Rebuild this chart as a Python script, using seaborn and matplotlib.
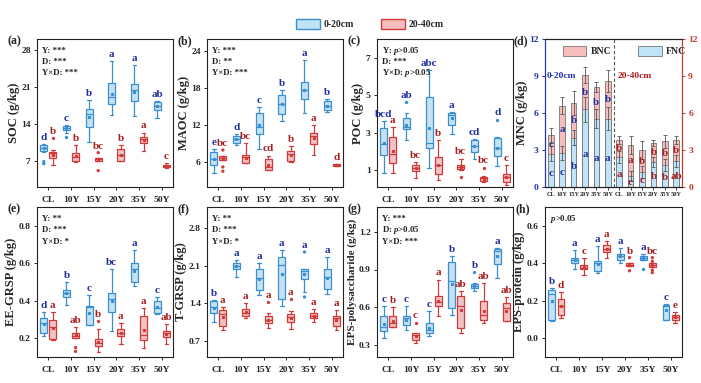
import numpy as np
import pandas as pd
import matplotlib
matplotlib.use("Agg")
import matplotlib.pyplot as plt
from matplotlib.patches import Patch
import seaborn as sns

ages = ["CL", "10Y", "15Y", "20Y", "35Y", "50Y"]
depths = ["0-20cm", "20-40cm"]

# box stats per age: (lower whisker, q1, median, q3, upper whisker)
soc_top = [(8.6, 8.8, 9.3, 9.9, 10.1), (12.3, 12.7, 13.1, 13.5, 13.8), (10.6, 13.4, 15.9, 16.8, 18.5),
           (15.6, 17.7, 19.0, 21.7, 25.8), (15.4, 18.2, 20.3, 21.4, 25.0), (15.1, 16.65, 17.3, 18.1, 18.3)]
soc_sub = [(6.2, 7.55, 8.4, 8.7, 9.0), (6.8, 7.0, 7.75, 8.4, 9.95), (7.0, 7.0, 7.3, 7.55, 7.55),
           (7.0, 7.0, 8.1, 9.1, 9.95), (8.9, 10.4, 11.0, 11.5, 12.3), (5.55, 5.75, 6.0, 6.2, 6.5)]
soc_top_out = [[6.8, 6.4], [11.4], [], [], [], []]
soc_sub_out = [[11.2], [], [8.5, 5.1], [], [], []]
soc_top_let = ["d", "c", "b", "a", "a", "ab"]
soc_sub_let = ["b", "b", "bc", "b", "a", "c"]

maoc_top = [(4.3, 5.6, 6.5, 7.6, 8.2), (8.8, 9.2, 9.8, 10.2, 10.6), (8.1, 10.6, 11.8, 14.0, 15.0),
            (12.75, 13.9, 15.4, 16.9, 17.7), (14.0, 16.3, 17.7, 19.0, 22.6), (14.2, 14.5, 15.1, 16.0, 16.3)]
maoc_sub = [(6.4, 6.4, 6.75, 7.0, 7.0), (5.9, 5.9, 6.85, 7.2, 9.1), (4.7, 4.7, 5.25, 6.5, 7.1),
            (6.0, 6.2, 7.4, 7.9, 8.6), (7.2, 9.0, 10.2, 10.7, 12.1), (5.35, 5.35, 5.55, 5.7, 5.7)]
maoc_top_out = [[], [], [], [], [], []]
maoc_sub_out = [[8.0, 5.25, 4.55], [], [], [], [], []]
maoc_top_let = ["e", "d", "c", "b", "a", "b"]
maoc_sub_let = ["bc", "bc", "cd", "b", "a", "d"]

poc_top = [(0.86, 1.8, 2.42, 3.23, 3.64), (2.6, 3.17, 3.3, 3.76, 4.03), (1.09, 2.16, 2.46, 4.92, 6.34),
           (2.92, 3.4, 3.94, 4.06, 4.12), (1.62, 1.98, 2.28, 2.6, 2.64), (1.21, 1.75, 2.16, 2.69, 2.75)]
poc_sub = [(0.86, 1.36, 1.85, 2.78, 3.3), (0.56, 0.97, 1.14, 1.27, 1.45), (0.47, 0.79, 1.27, 1.71, 2.6),
           (1.0, 1.04, 1.18, 1.27, 1.62), (0.38, 0.43, 0.56, 0.65, 0.68), (0.2, 0.38, 0.61, 0.79, 1.27)]
poc_top_out = [[], [4.65], [], [], [], [3.7]]
poc_sub_out = [[], [], [], [0.65], [1.14], []]
poc_top_let = ["bcd", "ab", "abc", "a", "cd", "d"]
poc_sub_let = ["a", "bc", "b", "bc", "bc", "c"]

eeg_top = [(0.21, 0.23, 0.28, 0.31, 0.34), (0.38, 0.42, 0.44, 0.46, 0.50), (0.27, 0.27, 0.365, 0.37, 0.43),
           (0.24, 0.34, 0.41, 0.44, 0.57), (0.48, 0.50, 0.57, 0.60, 0.67), (0.33, 0.335, 0.36, 0.40, 0.42)]
eeg_sub = [(0.19, 0.195, 0.26, 0.30, 0.34), (0.204, 0.204, 0.21, 0.227, 0.26), (0.125, 0.16, 0.175, 0.195, 0.25),
           (0.17, 0.21, 0.23, 0.25, 0.28), (0.15, 0.19, 0.22, 0.32, 0.36), (0.17, 0.205, 0.23, 0.24, 0.275)]
eeg_top_out = [[], [], [], [], [], []]
eeg_sub_out = [[], [0.15, 0.13], [0.29], [], [], []]
eeg_top_let = ["d", "b", "c", "bc", "a", "c"]
eeg_sub_let = ["a", "ab", "b", "a", "a", "ab"]

tg_top = [(1.06, 1.22, 1.33, 1.44, 1.46), (1.9, 2.04, 2.1, 2.15, 2.21), (1.55, 1.65, 1.88, 2.04, 2.16),
          (1.35, 1.48, 2.11, 2.27, 2.4), (1.61, 1.86, 2.0, 2.04, 2.05), (1.58, 1.67, 1.9, 2.04, 2.27)]
tg_sub = [(0.91, 0.98, 1.21, 1.27, 1.33), (1.13, 1.17, 1.22, 1.30, 1.41), (0.94, 1.03, 1.1, 1.16, 1.23),
          (0.92, 1.06, 1.14, 1.21, 1.25), (1.06, 1.13, 1.17, 1.22, 1.3), (0.9, 0.98, 1.13, 1.17, 1.27)]
tg_top_out = [[], [], [], [], [2.36, 1.52], []]
tg_sub_out = [[], [], [1.42], [1.48], [], []]
tg_top_let = ["b", "a", "a", "a", "a", "a"]
tg_sub_let = ["a", "a", "a", "a", "a", "a"]

epsp_top = [(0.35, 0.41, 0.44, 0.525, 0.606), (0.417, 0.457, 0.51, 0.525, 0.606), (0.37, 0.39, 0.417, 0.476, 0.565),
            (0.54, 0.59, 0.81, 0.96, 1.01), (0.73, 0.75, 0.77, 0.787, 0.795), (0.83, 0.944, 1.05, 1.065, 1.07)]
epsp_sub = [(0.44, 0.444, 0.476, 0.53, 0.6), (0.315, 0.34, 0.376, 0.39, 0.39), (0.53, 0.606, 0.64, 0.69, 0.82),
            (0.39, 0.43, 0.61, 0.69, 0.73), (0.47, 0.5, 0.54, 0.645, 0.79), (0.485, 0.485, 0.59, 0.633, 0.68)]
epsp_top_out = [[], [], [], [], [0.88], []]
epsp_sub_out = [[], [0.476], [], [], [], []]
epsp_top_let = ["c", "c", "c", "b", "b", "a"]
epsp_sub_let = ["b", "c", "a", "ab", "ab", "ab"]

epr_top = [(0.09, 0.1, 0.236, 0.26, 0.27), (0.37, 0.4, 0.42, 0.43, 0.47), (0.35, 0.36, 0.4, 0.41, 0.49),
           (0.4, 0.417, 0.44, 0.45, 0.48), (0.417, 0.417, 0.43, 0.44, 0.45), (0.1, 0.1, 0.17, 0.18, 0.182)]
epr_sub = [(0.11, 0.125, 0.174, 0.21, 0.245), (0.34, 0.367, 0.376, 0.39, 0.43), (0.43, 0.46, 0.475, 0.496, 0.52),
           (0.385, 0.385, 0.392, 0.4, 0.4), (0.38, 0.38, 0.39, 0.4, 0.4), (0.08, 0.095, 0.113, 0.125, 0.138)]
epr_top_out = [[], [], [], [], [0.367], []]
epr_sub_out = [[], [], [], [0.43, 0.36], [0.43, 0.41, 0.363, 0.35], []]
epr_top_let = ["b", "a", "a", "a", "a", "c"]
epr_sub_let = ["d", "c", "a", "b", "bc", "e"]

# panel (d): microbial necromass carbon
fnc_top = [2.7, 2.75, 4.0, 6.3, 5.55, 5.55]
mnc_top = [4.2, 6.6, 6.8, 9.1, 8.1, 8.6]
fnc_sub = [2.45, 0.9, 1.2, 2.0, 1.8, 2.1]
mnc_sub = [3.8, 3.4, 3.0, 3.6, 3.7, 3.8]
fnc_top_err = [0.6, 0.6, 0.6, 1.0, 0.8, 0.95]
mnc_top_err = [0.6, 0.7, 0.95, 0.65, 0.4, 0.9]
fnc_sub_err = [0.5, 0.4, 0.5, 0.4, 0.5, 0.5]
mnc_sub_err = [0.3, 0.7, 0.75, 0.25, 0.5, 0.3]
fnc_top_let = ["c", "c", "b", "a", "a", "a"]
bnc_top_let = ["c", "a", "b", "b", "b", "b"]
fnc_sub_let = ["a", "c", "c", "b", "b", "ab"]
bnc_sub_let = ["b", "a", "b", "b", "b", "b"]

sns.set_theme(style="ticks")
plt.rcParams["font.family"] = ["Liberation Serif", "DejaVu Serif"]
plt.rcParams["font.weight"] = "bold"
plt.rcParams["axes.labelweight"] = "bold"
plt.rcParams["mathtext.fontset"] = "custom"
plt.rcParams["mathtext.it"] = "Liberation Serif:italic:bold"
plt.rcParams["mathtext.rm"] = "Liberation Serif:bold"
plt.rcParams["axes.linewidth"] = 0.8
plt.rcParams["axes.edgecolor"] = "#222222"

face = {"0-20cm": "#bfe4f8", "20-40cm": "#f7bdbd"}
edge = {"0-20cm": "#3a8fd3", "20-40cm": "#d23a3a"}
letc = {"0-20cm": "#1f2fa0", "20-40cm": "#a81e1e"}

W, H = 701, 383
fig = plt.figure(figsize=(W / 100, H / 100), dpi=100)


def add_ax(x0, x1, y0, y1):
    return fig.add_axes([x0 / W, 1 - y1 / H, (x1 - x0) / W, (y1 - y0) / H])


cols = [(37, 173), (207, 343), (377, 513), (545, 682)]
rows = [(39, 187), (207, 357)]


def box_panel(ax, top, sub, top_out, sub_out, top_let, sub_let, ylab, ylim, yticks, stats, labsize):
    recs, outs = [], []
    for depth, st, ol in zip(depths, (top, sub), (top_out, sub_out)):
        for age, (lo, q1, med, q3, hi), o in zip(ages, st, ol):
            for v in [lo] + [q1] * 5 + [med] * 5 + [q3] * 5 + [hi]:
                recs.append((age, depth, v))
            for v in o:
                outs.append((age, depth, v))
    df = pd.DataFrame(recs, columns=["age", "depth", "value"])
    od = pd.DataFrame(outs, columns=["age", "depth", "value"])
    for depth in depths:
        sns.boxplot(data=df[df.depth == depth], x="age", y="value", hue="depth",
                    order=ages, hue_order=depths, palette=face, linecolor=edge[depth],
                    linewidth=0.9, width=0.8, gap=0.25, whis=(0, 100), dodge=True,
                    showmeans=True, legend=False, ax=ax,
                    meanprops=dict(marker="s", markersize=1.3, markerfacecolor=edge[depth],
                                   markeredgecolor=edge[depth]))
    if len(od):
        sns.stripplot(data=od, x="age", y="value", hue="depth", order=ages, hue_order=depths,
                      palette=edge, dodge=True, jitter=False, size=2.4, legend=False, ax=ax)
    for k, (depth, st, ol, lets) in enumerate(zip(depths, (top, sub), (top_out, sub_out), (top_let, sub_let))):
        for i in range(len(ages)):
            ymax = max([st[i][4]] + ol[i])
            ax.annotate(lets[i], (i - 0.2 + 0.4 * k, ymax), xytext=(0, 1.5), textcoords="offset points",
                        ha="center", va="bottom", fontsize=8, color=letc[depth], fontweight="bold")
    ax.set_xlim(-0.5, 5.5)
    ax.set_ylim(*ylim)
    ax.set_yticks(yticks)
    ax.set_xlabel("")
    ax.set_ylabel(ylab, fontsize=labsize, labelpad=1)
    ax.tick_params(labelsize=6.8, length=2.5, width=0.7, pad=2)
    ax.tick_params(axis="x", pad=4)
    for s in ax.spines.values():
        s.set_visible(True)
    for j, line in enumerate(stats):
        ax.text(0.04, 0.92 - 0.075 * j, line, transform=ax.transAxes, fontsize=6.3,
                va="center", ha="left", color="#222222")


panels = [
    (0, 0, "(a)", "%g", soc_top, soc_sub, soc_top_out, soc_sub_out, soc_top_let, soc_sub_let,
     "SOC (g/kg)", (2, 30), [7, 14, 21, 28], ["Y: ***", "D: ***", "Y×D: ***"], 9),
    (0, 1, "(b)", "%g", maoc_top, maoc_sub, maoc_top_out, maoc_sub_out, maoc_top_let, maoc_sub_let,
     "MAOC (g/kg)", (2, 26), [6, 12, 18, 24], ["Y: ***", "D: **", "Y×D: ***"], 9),
    (0, 2, "(c)", "%g", poc_top, poc_sub, poc_top_out, poc_sub_out, poc_top_let, poc_sub_let,
     "POC (g/kg)", (0.1, 8), [1, 3, 5, 7], ["Y: $p$>0.05", "D: ***", "Y×D: $p$>0.05"], 9),
    (1, 0, "(e)", "%.1f", eeg_top, eeg_sub, eeg_top_out, eeg_sub_out, eeg_top_let, eeg_sub_let,
     "EE-GRSP (g/kg)", (0.1, 0.9), [0.2, 0.4, 0.6, 0.8], ["Y: **", "D: ***", "Y×D: *"], 9),
    (1, 1, "(f)", "%.1f", tg_top, tg_sub, tg_top_out, tg_sub_out, tg_top_let, tg_sub_let,
     "T-GRSP (g/kg)", (0.4, 3.2), [0.7, 1.4, 2.1, 2.8], ["Y: **", "D: ***", "Y×D: *"], 9),
    (1, 2, "(g)", "%.1f", epsp_top, epsp_sub, epsp_top_out, epsp_sub_out, epsp_top_let, epsp_sub_let,
     "EPS-polysaccharide (g/kg)", (0.2, 1.4), [0.3, 0.6, 0.9, 1.2], ["Y: ***", "D: $p$>0.05", "Y×D: ***"], 8),
    (1, 3, "(h)", "%.1f", epr_top, epr_sub, epr_top_out, epr_sub_out, epr_top_let, epr_sub_let,
     "EPS-protein (g/kg)", (-0.1, 0.7), [0.0, 0.2, 0.4, 0.6], ["$p$>0.05"], 9),
]

for r, c, tag, fmt, *args in panels:
    ax = add_ax(cols[c][0], cols[c][1], *rows[r])
    box_panel(ax, *args)
    ax.yaxis.set_major_formatter(matplotlib.ticker.FormatStrFormatter(fmt))
    fig.text((cols[c][0] - 30) / W, 1 - (rows[r][0] + 2) / H, tag, fontsize=8.5, va="center", ha="left")

# panel (d)
axd = add_ax(cols[3][0], cols[3][1], *rows[0])
keys = [f"{a}|{d}" for d in depths for a in ages]
bar_df = pd.DataFrame({"key": keys, "mnc": mnc_top + mnc_sub, "fnc": fnc_top + fnc_sub})
sns.barplot(data=bar_df, x="key", y="mnc", order=keys, color="#f7bdbd", edgecolor="#777777",
            linewidth=0.6, width=0.5, saturation=1, ax=axd)
sns.barplot(data=bar_df, x="key", y="fnc", order=keys, color="#bfe4f8", edgecolor="#777777",
            linewidth=0.6, width=0.5, saturation=1, ax=axd)
xs = np.arange(len(keys))
axd.errorbar(xs, bar_df["mnc"], yerr=mnc_top_err + mnc_sub_err, fmt="none", ecolor="#555555",
             elinewidth=0.6, capsize=1.5, capthick=0.6)
axd.errorbar(xs, bar_df["fnc"], yerr=fnc_top_err + fnc_sub_err, fmt="none", ecolor="#555555",
             elinewidth=0.6, capsize=1.5, capthick=0.6)
fl = fnc_top_let + fnc_sub_let
bl = bnc_top_let + bnc_sub_let
for i in range(len(keys)):
    col = letc[depths[i // 6]]
    f, m = bar_df["fnc"][i], bar_df["mnc"][i]
    axd.text(i, f * 0.42, fl[i], ha="center", va="center", fontsize=8, color=col)
    axd.text(i, (f + m) / 2, bl[i], ha="center", va="center", fontsize=8, color=col)
axd.axvline(5.5, color="#555555", ls=(0, (3, 2)), lw=0.8)
axd.set_xlim(-0.5, 11.5)
axd.set_ylim(0, 12)
axd.set_yticks([0, 3, 6, 9, 12])
axd.set_xticks(xs)
axd.set_xticklabels(ages + ages)
axd.set_xlabel("")
axd.set_ylabel("MNC (g/kg)", fontsize=9, labelpad=1)
axd.tick_params(axis="x", labelsize=4.6, length=2, width=0.6, pad=1.5)
axd.tick_params(axis="y", labelsize=6.8, length=2.5, width=0.7, pad=2, colors="#2433a8")
axd.spines["left"].set_color("#2433a8")
axd.spines["right"].set_color("#c0392b")
axd.text(-0.4, 9.0, "0-20cm", fontsize=6.8, color="#2433a8", ha="left", va="center")
axd.text(5.9, 9.0, "20-40cm", fontsize=6.8, color="#a81e1e", ha="left", va="center")
axr = axd.twinx()
axr.set_ylim(0, 12)
axr.set_yticks([0, 3, 6, 9, 12])
axr.tick_params(axis="y", labelsize=6.8, length=2.5, width=0.7, pad=2, colors="#c0392b")
axr.spines["right"].set_color("#c0392b")
axr.spines["left"].set_color("#2433a8")
axd.legend(handles=[Patch(facecolor="#f7bdbd", edgecolor="#777777", lw=0.6),
                    Patch(facecolor="#bfe4f8", edgecolor="#777777", lw=0.6)],
           labels=["BNC", "FNC"], loc="upper center", bbox_to_anchor=(0.58, 1.01), ncol=2,
           frameon=False, fontsize=7, handlelength=2.4, handleheight=1.1, columnspacing=2.8,
           handletextpad=0.4)
fig.text((cols[3][0] - 31) / W, 1 - (rows[0][0] + 2) / H, "(d)", fontsize=8.5, va="center", ha="left")

fig.legend(handles=[Patch(facecolor=face[d], edgecolor=edge[d], lw=1) for d in depths],
           labels=depths, loc="center", bbox_to_anchor=(370 / W, 1 - 24 / H), ncol=2,
           frameon=False, fontsize=7, handlelength=2.4, handleheight=1.2, columnspacing=2.8,
           handletextpad=0.4)

fig.savefig("out.png", dpi=100)
